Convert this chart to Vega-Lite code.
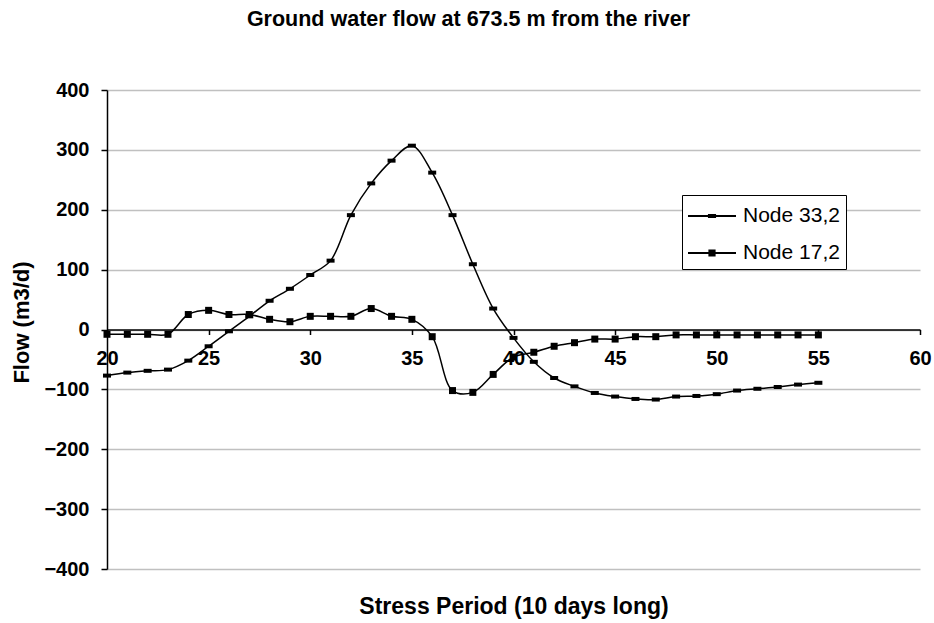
{
  "$schema": "https://vega.github.io/schema/vega-lite/v6.json",
  "width": 813,
  "height": 479,
  "autosize": "none",
  "padding": {"left": 107, "top": 90, "right": 14, "bottom": 54},
  "background": "white",
  "config": {"font": "Liberation Sans", "view": {"stroke": null}},
  "title": {"text": "Ground water flow at 673.5 m from the river", "fontSize": 21.5, "fontWeight": "bold", "color": "black", "anchor": "middle", "frame": "group", "offset": 50, "dx": -45, "font": "Liberation Sans"},
  "data": {"values": [
    {"series": "Node 33,2", "x": 20, "y": -77}, {"series": "Node 33,2", "x": 21, "y": -72}, {"series": "Node 33,2", "x": 22, "y": -69}, {"series": "Node 33,2", "x": 23, "y": -67}, {"series": "Node 33,2", "x": 24, "y": -52}, {"series": "Node 33,2", "x": 25, "y": -28}, {"series": "Node 33,2", "x": 26, "y": -3}, {"series": "Node 33,2", "x": 27, "y": 22}, {"series": "Node 33,2", "x": 28, "y": 48}, {"series": "Node 33,2", "x": 29, "y": 68}, {"series": "Node 33,2", "x": 30, "y": 91}, {"series": "Node 33,2", "x": 31, "y": 115}, {"series": "Node 33,2", "x": 32, "y": 191}, {"series": "Node 33,2", "x": 33, "y": 244}, {"series": "Node 33,2", "x": 34, "y": 282}, {"series": "Node 33,2", "x": 35, "y": 307}, {"series": "Node 33,2", "x": 36, "y": 262}, {"series": "Node 33,2", "x": 37, "y": 191}, {"series": "Node 33,2", "x": 38, "y": 109}, {"series": "Node 33,2", "x": 39, "y": 35}, {"series": "Node 33,2", "x": 40, "y": -14}, {"series": "Node 33,2", "x": 41, "y": -54}, {"series": "Node 33,2", "x": 42, "y": -81}, {"series": "Node 33,2", "x": 43, "y": -95}, {"series": "Node 33,2", "x": 44, "y": -106}, {"series": "Node 33,2", "x": 45, "y": -112}, {"series": "Node 33,2", "x": 46, "y": -116}, {"series": "Node 33,2", "x": 47, "y": -117}, {"series": "Node 33,2", "x": 48, "y": -112}, {"series": "Node 33,2", "x": 49, "y": -111}, {"series": "Node 33,2", "x": 50, "y": -108}, {"series": "Node 33,2", "x": 51, "y": -102}, {"series": "Node 33,2", "x": 52, "y": -99}, {"series": "Node 33,2", "x": 53, "y": -96}, {"series": "Node 33,2", "x": 54, "y": -92}, {"series": "Node 33,2", "x": 55, "y": -89},
    {"series": "Node 17,2", "x": 20, "y": -8}, {"series": "Node 17,2", "x": 21, "y": -8}, {"series": "Node 17,2", "x": 22, "y": -8}, {"series": "Node 17,2", "x": 23, "y": -8}, {"series": "Node 17,2", "x": 24, "y": 25}, {"series": "Node 17,2", "x": 25, "y": 32}, {"series": "Node 17,2", "x": 26, "y": 25}, {"series": "Node 17,2", "x": 27, "y": 25}, {"series": "Node 17,2", "x": 28, "y": 17}, {"series": "Node 17,2", "x": 29, "y": 13}, {"series": "Node 17,2", "x": 30, "y": 22}, {"series": "Node 17,2", "x": 31, "y": 22}, {"series": "Node 17,2", "x": 32, "y": 22}, {"series": "Node 17,2", "x": 33, "y": 35}, {"series": "Node 17,2", "x": 34, "y": 22}, {"series": "Node 17,2", "x": 35, "y": 17}, {"series": "Node 17,2", "x": 36, "y": -12}, {"series": "Node 17,2", "x": 37, "y": -102}, {"series": "Node 17,2", "x": 38, "y": -105}, {"series": "Node 17,2", "x": 39, "y": -75}, {"series": "Node 17,2", "x": 40, "y": -46}, {"series": "Node 17,2", "x": 41, "y": -38}, {"series": "Node 17,2", "x": 42, "y": -28}, {"series": "Node 17,2", "x": 43, "y": -22}, {"series": "Node 17,2", "x": 44, "y": -16}, {"series": "Node 17,2", "x": 45, "y": -16}, {"series": "Node 17,2", "x": 46, "y": -12}, {"series": "Node 17,2", "x": 47, "y": -12}, {"series": "Node 17,2", "x": 48, "y": -9}, {"series": "Node 17,2", "x": 49, "y": -9}, {"series": "Node 17,2", "x": 50, "y": -9}, {"series": "Node 17,2", "x": 51, "y": -9}, {"series": "Node 17,2", "x": 52, "y": -9}, {"series": "Node 17,2", "x": 53, "y": -9}, {"series": "Node 17,2", "x": 54, "y": -9}, {"series": "Node 17,2", "x": 55, "y": -9}
  ]},
  "encoding": {
    "x": {"field": "x", "type": "quantitative", "scale": {"domain": [20, 60], "nice": false, "zero": false},
      "axis": {"values": [20, 25, 30, 35, 40, 45, 50, 55, 60], "offset": -239.5, "grid": false, "domainColor": "black", "domainWidth": 1.5, "tickColor": "black", "tickSize": 5, "tickWidth": 1.5, "labelFontSize": 20, "labelFontWeight": "bold", "labelColor": "black", "labelPadding": 14, "labelFlush": false, "title": "Stress Period (10 days long)", "titleFontSize": 23, "titleFontWeight": "bold", "titleColor": "black", "titleY": 277, "titleBaseline": "middle"}},
    "y": {"field": "y", "type": "quantitative", "scale": {"domain": [-400, 400], "nice": false},
      "axis": {"values": [-400, -300, -200, -100, 0, 100, 200, 300, 400], "grid": true, "gridColor": "#c0c0c0", "gridWidth": 1.5, "domainColor": "black", "domainWidth": 1.5, "tickColor": "black", "tickSize": 6, "tickWidth": 1.5, "labelFontSize": 20, "labelFontWeight": "bold", "labelColor": "black", "labelPadding": 12, "title": "Flow (m3/d)", "titleFontSize": 22, "titleFontWeight": "bold", "titleColor": "black", "titleX": -86, "titleY": 232, "titleBaseline": "middle"}}
  },
  "layer": [
    {"mark": {"type": "line", "interpolate": "catmull-rom", "color": "black", "strokeWidth": 1.5},
     "encoding": {"detail": {"field": "series", "type": "nominal"}}},
    {"mark": {"type": "point", "filled": true, "color": "black", "opacity": 1, "size": 64},
     "encoding": {"shape": {"field": "series", "type": "nominal",
        "scale": {"domain": ["Node 33,2", "Node 17,2"], "range": ["M-1,-0.5H1V0.5H-1Z", "M-0.875,-0.875H0.875V0.875H-0.875Z"]},
        "legend": null}}},
    {"mark": {"type": "point", "filled": true, "color": "black", "opacity": 0, "size": 900},
     "encoding": {"shape": {"field": "series", "type": "nominal",
        "scale": {"domain": ["Node 33,2", "Node 17,2"], "range": ["M-1,-0.06H2.2V0.06H-1Z M0.33,-0.135H0.87V0.135H0.33Z", "M-1,-0.06H2.2V0.06H-1Z M0.36,-0.24H0.84V0.24H0.36Z"]},
        "legend": {"title": null, "orient": "none", "legendX": 575, "legendY": 105, "padding": 6, "strokeColor": "black", "fillColor": "white", "cornerRadius": 0, "labelFontSize": 21, "labelColor": "black", "labelFont": "Liberation Sans", "symbolSize": 900, "symbolFillColor": "black", "symbolStrokeWidth": 0, "symbolOpacity": 1, "rowPadding": 12, "labelOffset": 25}}}}
  ],
  "resolve": {"scale": {"shape": "independent"}}
}
